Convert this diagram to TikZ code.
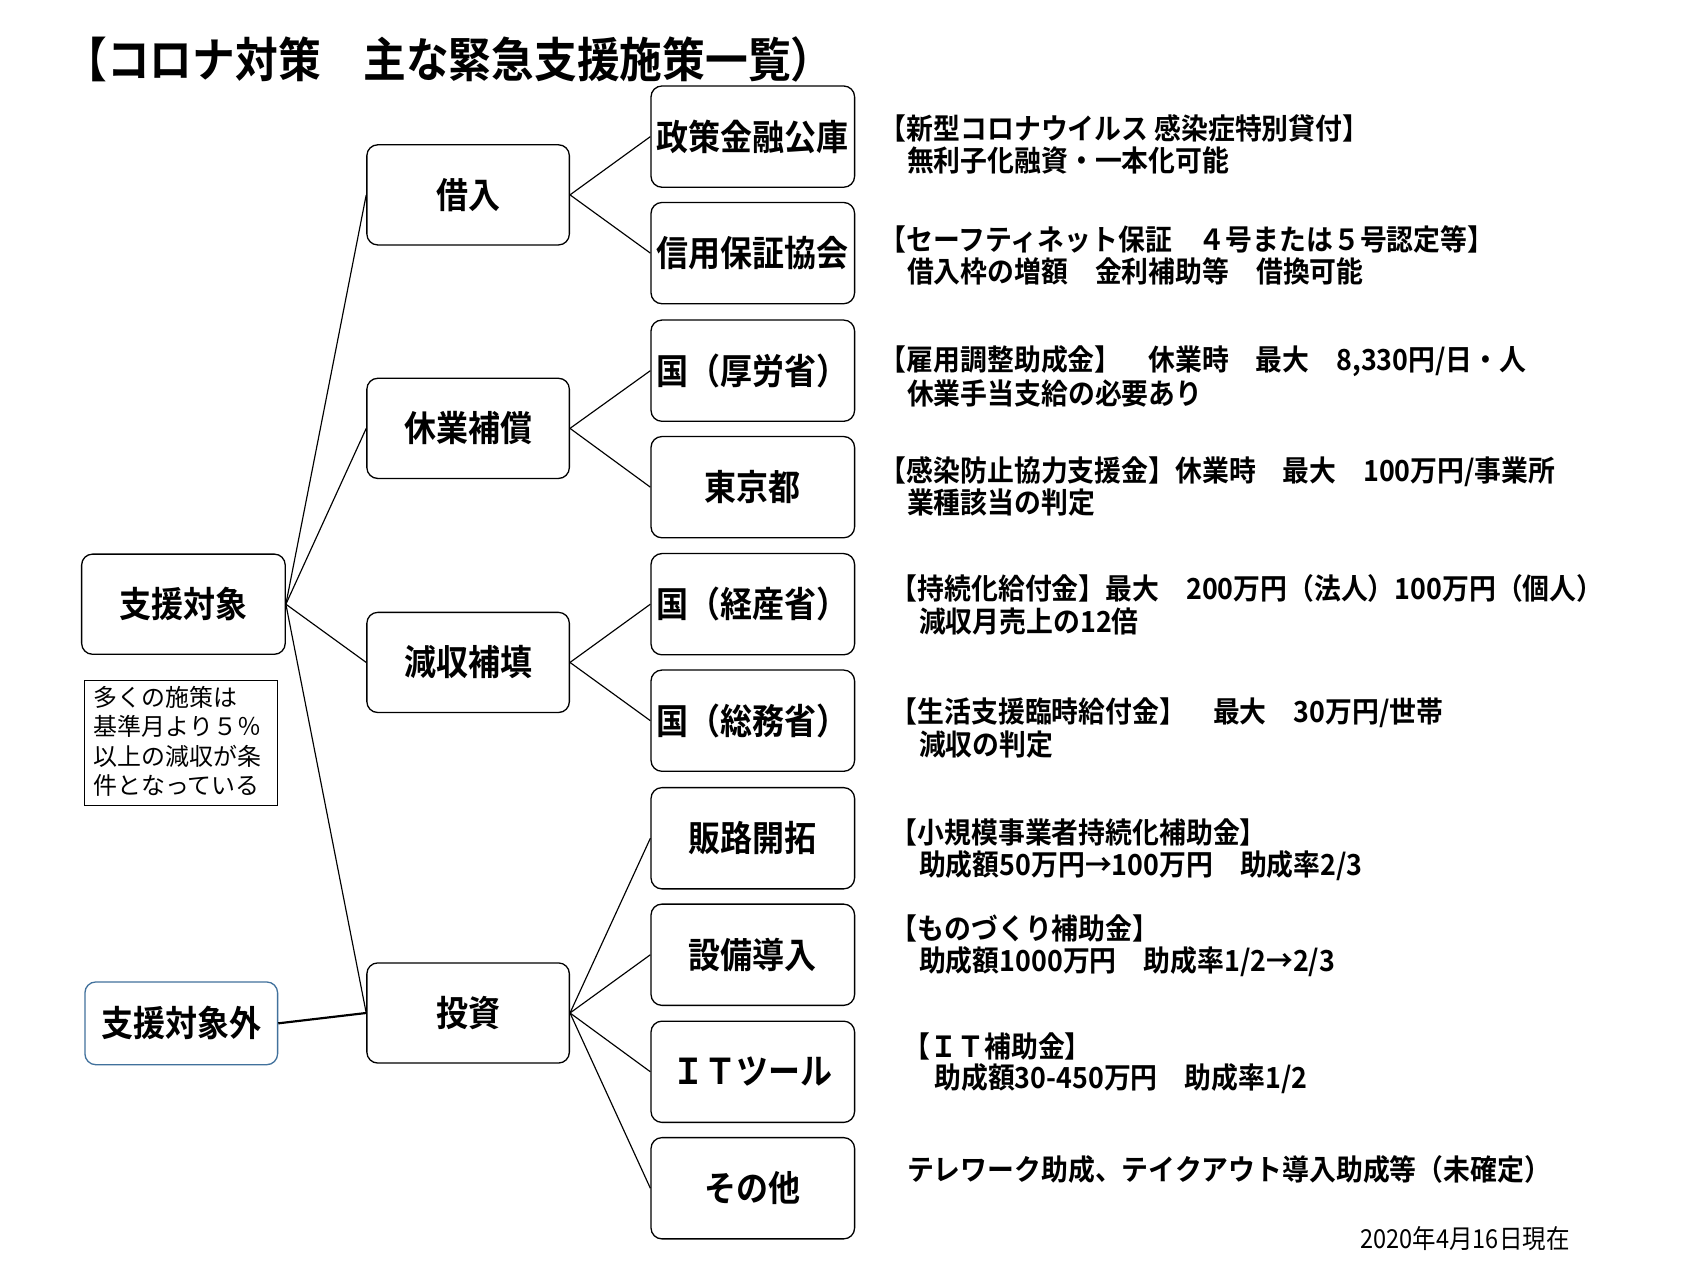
\documentclass[tikz,border=0pt]{standalone}
\usepackage{fontspec}
\newfontfamily\jpb{Noto Sans CJK JP Bold}[FakeStretch=0.9]
\newfontfamily\jpbd{Noto Sans CJK JP Bold}[FakeStretch=0.925]
\newfontfamily\jpr{Noto Sans CJK JP}
\newfontfamily\jprn{Noto Sans CJK JP}[FakeStretch=0.9]
\newcommand\titlefont{\jpb\fontsize{32.7pt}{36pt}\selectfont}
\newcommand\boxfont{\jpb\fontsize{24.5pt}{29pt}\selectfont}
\newcommand\descfont{\jpbd\fontsize{20pt}{24pt}\selectfont}
\newcommand\notefont{\jpr\fontsize{16.5pt}{20.25pt}\selectfont}
\newcommand\datefont{\jprn\fontsize{18pt}{20pt}\selectfont}
\definecolor{outblue}{HTML}{41719C}
\tikzset{
  bx/.style={draw=black, line width=0.9pt, rounded corners=7.5pt, inner sep=0pt, font=\boxfont},
  lvone/.style={bx, minimum width=140.25pt, minimum height=69pt},
  lvtwo/.style={bx, minimum width=139.5pt, minimum height=69pt},
  lvthree/.style={bx, minimum width=140.25pt, minimum height=69.75pt},
  desc/.style={anchor=west, inner sep=0pt, font=\descfont},
  conn/.style={draw=black, line width=0.8pt},
}
\begin{document}
\begin{tikzpicture}[x=0.75pt, y=-0.75pt]
\useasboundingbox (0,0) rectangle (1568,1176);
\fill[white] (0,0) rectangle (1568,1176);
% title
\node[anchor=west, inner sep=0pt, font=\titlefont] (title) at (59,55) {【コロナ対策　主な緊急支援施策一覧）};
% level 1
\node[lvone] (sien) at (168.5,555) {支援対象};
\node[lvone, draw=outblue, minimum width=132.75pt, minimum height=57pt] (sienout) at (166.5,940) {支援対象外};
\node[draw=black, line width=0.7pt, minimum width=132.75pt, minimum height=86.25pt, inner sep=0pt] (notebox) at (166.5,682.5) {};
\node[anchor=north west, inner sep=0pt, align=left, font=\notefont] (note) at (86,630) {多くの施策は\\基準月より５％\\以上の減収が条\\件となっている};
% level 2
\node[lvtwo] (kari) at (430,179) {借入};
\node[lvtwo] (kyugyo) at (430,393.5) {休業補償};
\node[lvtwo] (gensyu) at (430,608.5) {減収補填};
\node[lvtwo] (toshi) at (430,930.5) {投資};
% level 3
\node[lvthree] (seisaku) at (691.5,125.5) {政策金融公庫};
\node[lvthree] (shinyo) at (691.5,232.5) {信用保証協会};
\node[lvthree] (koro) at (691.5,340.5) {国（厚労省）};
\node[lvthree] (tokyo) at (691.5,447.5) {東京都};
\node[lvthree] (keisan) at (691.5,555) {国（経産省）};
\node[lvthree] (somu) at (691.5,662) {国（総務省）};
\node[lvthree] (hanro) at (691.5,770) {販路開拓};
\node[lvthree] (setsubi) at (691.5,877) {設備導入};
\node[lvthree] (it) at (691.5,984.5) {ＩＴツール};
\node[lvthree] (sonota) at (691.5,1091.5) {その他};
% connectors
\draw[conn] (sien.east) -- (kari.west);
\draw[conn] (sien.east) -- (kyugyo.west);
\draw[conn] (sien.east) -- (gensyu.west);
\draw[conn] (sien.east) -- (toshi.west);
\draw[draw=black, line width=1.5pt] (sienout.east) -- (toshi.west);
\draw[conn] (kari.east) -- (seisaku.west);
\draw[conn] (kari.east) -- (shinyo.west);
\draw[conn] (kyugyo.east) -- (koro.west);
\draw[conn] (kyugyo.east) -- (tokyo.west);
\draw[conn] (gensyu.east) -- (keisan.west);
\draw[conn] (gensyu.east) -- (somu.west);
\draw[conn] (toshi.east) -- (hanro.west);
\draw[conn] (toshi.east) -- (setsubi.west);
\draw[conn] (toshi.east) -- (it.west);
\draw[conn] (toshi.east) -- (sonota.west);
% descriptions
\node[desc] (d1a) at (808,118) {【新型コロナウイルス 感染症特別貸付】};
\node[desc] (d1b) at (833,147) {無利子化融資・一本化可能};
\node[desc] (d2a) at (808,220) {【セーフティネット保証　４号または５号認定等】};
\node[desc] (d2b) at (833,249) {借入枠の増額　金利補助等　借換可能};
\node[desc] (d3a) at (808,332) {【雇用調整助成金】　休業時　最大　8,330円/日・人};
\node[desc] (d3b) at (833,361) {休業手当支給の必要あり};
\node[desc] (d4a) at (808,433) {【感染防止協力支援金】休業時　最大　100万円/事業所};
\node[desc] (d4b) at (833,462) {業種該当の判定};
\node[desc] (d5a) at (818,541) {【持続化給付金】最大　200万円（法人）100万円（個人）};
\node[desc] (d5b) at (844,571) {減収月売上の12倍};
\node[desc] (d6a) at (818,655) {【生活支援臨時給付金】　最大　30万円/世帯};
\node[desc] (d6b) at (844,684) {減収の判定};
\node[desc] (d7a) at (818,765) {【小規模事業者持続化補助金】};
\node[desc] (d7b) at (844,795) {助成額50万円→100万円　助成率2/3};
\node[desc] (d8a) at (818,853) {【ものづくり補助金】};
\node[desc] (d8b) at (844,883) {助成額1000万円　助成率1/2→2/3};
\node[desc] (d9a) at (830,961) {【ＩＴ補助金】};
\node[desc] (d9b) at (858,991) {助成額30-450万円　助成率1/2};
\node[desc] (d10) at (833,1074) {テレワーク助成、テイクアウト導入助成等（未確定）};
% date
\node[anchor=east, inner sep=0pt, font=\datefont] (date) at (1442,1138) {2020年4月16日現在};
\end{tikzpicture}
\end{document}
